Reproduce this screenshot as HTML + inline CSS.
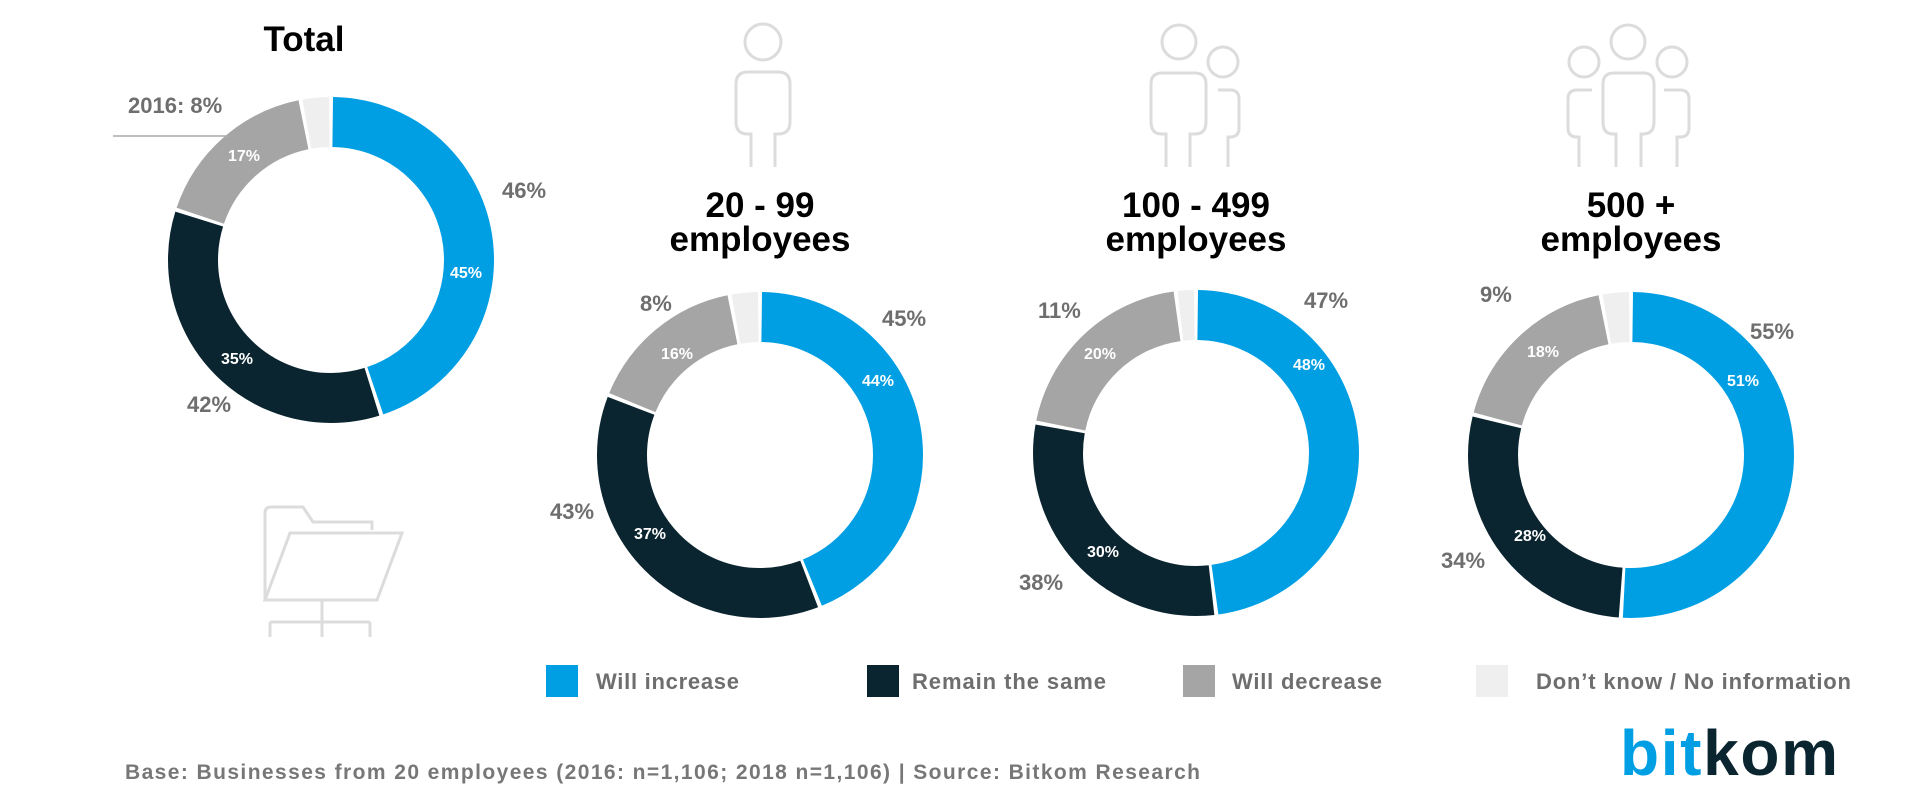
<!DOCTYPE html>
<html><head><meta charset="utf-8">
<style>
html,body{margin:0;padding:0;background:#fff;}
svg{display:block;}
text{font-family:"Liberation Sans",sans-serif;font-weight:bold;}
.o{fill:#6e6e6e;font-size:22px;}
.i{fill:#fff;font-size:16px;}
.t{fill:#000;font-size:35px;text-anchor:middle;}
.ic{fill:none;stroke:#dcdcdc;stroke-width:3;}
.lg{fill:#6e6e6e;font-size:22px;}
</style></head><body>
<svg width="1920" height="796" viewBox="0 0 1920 796" xmlns="http://www.w3.org/2000/svg">

<!-- Donut 1 -->
<g transform="translate(331,260) rotate(-90)" fill="none" stroke-width="50">
<circle r="138" pathLength="100" stroke="#009fe3" stroke-dasharray="44.6 55.4" stroke-dashoffset="-0.2"/>
<circle r="138" pathLength="100" stroke="#0b2530" stroke-dasharray="34.6 65.4" stroke-dashoffset="-45.2"/>
<circle r="138" pathLength="100" stroke="#a5a5a5" stroke-dasharray="16.6 83.4" stroke-dashoffset="-80.2"/>
<circle r="138" pathLength="100" stroke="#efefef" stroke-dasharray="2.6 97.4" stroke-dashoffset="-97.2"/>
</g>
<!-- Donut 2 -->
<g transform="translate(760,455) rotate(-90)" fill="none" stroke-width="50">
<circle r="138" pathLength="100" stroke="#009fe3" stroke-dasharray="43.6 56.4" stroke-dashoffset="-0.2"/>
<circle r="138" pathLength="100" stroke="#0b2530" stroke-dasharray="36.6 63.4" stroke-dashoffset="-44.2"/>
<circle r="138" pathLength="100" stroke="#a5a5a5" stroke-dasharray="15.6 84.4" stroke-dashoffset="-81.2"/>
<circle r="138" pathLength="100" stroke="#efefef" stroke-dasharray="2.6 97.4" stroke-dashoffset="-97.2"/>
</g>
<!-- Donut 3 -->
<g transform="translate(1196,453) rotate(-90)" fill="none" stroke-width="50">
<circle r="138" pathLength="100" stroke="#009fe3" stroke-dasharray="47.6 52.4" stroke-dashoffset="-0.2"/>
<circle r="138" pathLength="100" stroke="#0b2530" stroke-dasharray="29.6 70.4" stroke-dashoffset="-48.2"/>
<circle r="138" pathLength="100" stroke="#a5a5a5" stroke-dasharray="19.6 80.4" stroke-dashoffset="-78.2"/>
<circle r="138" pathLength="100" stroke="#efefef" stroke-dasharray="1.6 98.4" stroke-dashoffset="-98.2"/>
</g>
<!-- Donut 4 -->
<g transform="translate(1631,455) rotate(-90)" fill="none" stroke-width="50">
<circle r="138" pathLength="100" stroke="#009fe3" stroke-dasharray="50.6 49.4" stroke-dashoffset="-0.2"/>
<circle r="138" pathLength="100" stroke="#0b2530" stroke-dasharray="27.6 72.4" stroke-dashoffset="-51.2"/>
<circle r="138" pathLength="100" stroke="#a5a5a5" stroke-dasharray="17.6 82.4" stroke-dashoffset="-79.2"/>
<circle r="138" pathLength="100" stroke="#efefef" stroke-dasharray="2.6 97.4" stroke-dashoffset="-97.2"/>
</g>

<!-- Titles -->
<text class="t" x="304" y="51">Total</text>
<text class="t" x="760" y="217">20 - 99</text>
<text class="t" x="760" y="251">employees</text>
<text class="t" x="1196" y="217">100 - 499</text>
<text class="t" x="1196" y="251">employees</text>
<text class="t" x="1631" y="217">500 +</text>
<text class="t" x="1631" y="251">employees</text>

<!-- Donut 1 labels -->
<text class="o" x="128" y="113">2016: 8%</text>
<line x1="113" y1="136" x2="228" y2="136" stroke="#aaa" stroke-width="1.5"/>
<text class="i" x="228" y="161">17%</text>
<text class="o" x="502" y="198">46%</text>
<text class="i" x="450" y="278">45%</text>
<text class="i" x="221" y="364">35%</text>
<text class="o" x="187" y="412">42%</text>

<!-- Donut 2 labels -->
<text class="o" x="640" y="311">8%</text>
<text class="o" x="882" y="326">45%</text>
<text class="i" x="661" y="359">16%</text>
<text class="i" x="862" y="386">44%</text>
<text class="i" x="634" y="539">37%</text>
<text class="o" x="550" y="519">43%</text>

<!-- Donut 3 labels -->
<text class="o" x="1038" y="318">11%</text>
<text class="o" x="1304" y="308">47%</text>
<text class="i" x="1084" y="359">20%</text>
<text class="i" x="1293" y="370">48%</text>
<text class="i" x="1087" y="557">30%</text>
<text class="o" x="1019" y="590">38%</text>

<!-- Donut 4 labels -->
<text class="o" x="1480" y="302">9%</text>
<text class="o" x="1750" y="339">55%</text>
<text class="i" x="1527" y="357">18%</text>
<text class="i" x="1727" y="386">51%</text>
<text class="i" x="1514" y="541">28%</text>
<text class="o" x="1441" y="568">34%</text>

<!-- Icons -->
<g class="ic">
<circle cx="763" cy="42" r="18"/>
<path d="M751,167 V134 H748 Q736,134 736,122 V84 Q736,72 748,72 H778 Q790,72 790,84 V122 Q790,134 778,134 H775 V167"/>
<circle cx="1179" cy="42" r="17"/>
<path d="M1166,167 V134 H1162 Q1151,134 1151,122 V84 Q1151,73 1162,73 H1195 Q1206,73 1206,84 V122 Q1206,134 1195,134 H1190 V167"/>
<circle cx="1223" cy="62" r="15"/>
<path d="M1218,90 H1230 Q1239,90 1239,99 V128 Q1239,137 1230,137 H1228 V167"/>
<circle cx="1628" cy="42" r="17"/>
<path d="M1616,167 V134 H1613 Q1603,134 1603,122 V84 Q1603,73 1614,73 H1643 Q1654,73 1654,84 V122 Q1654,134 1643,134 H1641 V167"/>
<circle cx="1584" cy="62" r="15"/>
<path d="M1592,90 H1577 Q1568,90 1568,99 V128 Q1568,137 1577,137 H1579 V167"/>
<circle cx="1672" cy="62" r="15"/>
<path d="M1664,90 H1680 Q1689,90 1689,99 V128 Q1689,137 1680,137 H1677 V167"/>
<path d="M265,600 V513 Q265,507 271,507 H303 L313,522 H372 V530"/>
<path d="M265,600 L290,533 H402 L377,600 Z"/>
<path d="M322,600 V637 M270,622 H370 M270,622 V637 M370,622 V637"/>
</g>

<!-- Legend -->
<rect x="546" y="665" width="32" height="32" fill="#009fe3"/>
<text class="lg" x="596" y="689" textLength="143">Will increase</text>
<rect x="867" y="665" width="32" height="32" fill="#0b2530"/>
<text class="lg" x="912" y="689" textLength="194">Remain the same</text>
<rect x="1183" y="665" width="32" height="32" fill="#a5a5a5"/>
<text class="lg" x="1232" y="689" textLength="150">Will decrease</text>
<rect x="1476" y="665" width="32" height="32" fill="#efefef"/>
<text class="lg" x="1536" y="689" textLength="315">Don’t know / No information</text>

<!-- Footer -->
<text x="125" y="779" style="font-size:21px;fill:#777;font-weight:bold" textLength="1075">Base: Businesses from 20 employees (2016: n=1,106; 2018 n=1,106) | Source: Bitkom Research</text>
<text x="1620" y="775" style="font-size:64px;font-weight:bold" textLength="218"><tspan fill="#009fe3">bit</tspan><tspan fill="#0b2530">kom</tspan></text>
</svg>
</body></html>
